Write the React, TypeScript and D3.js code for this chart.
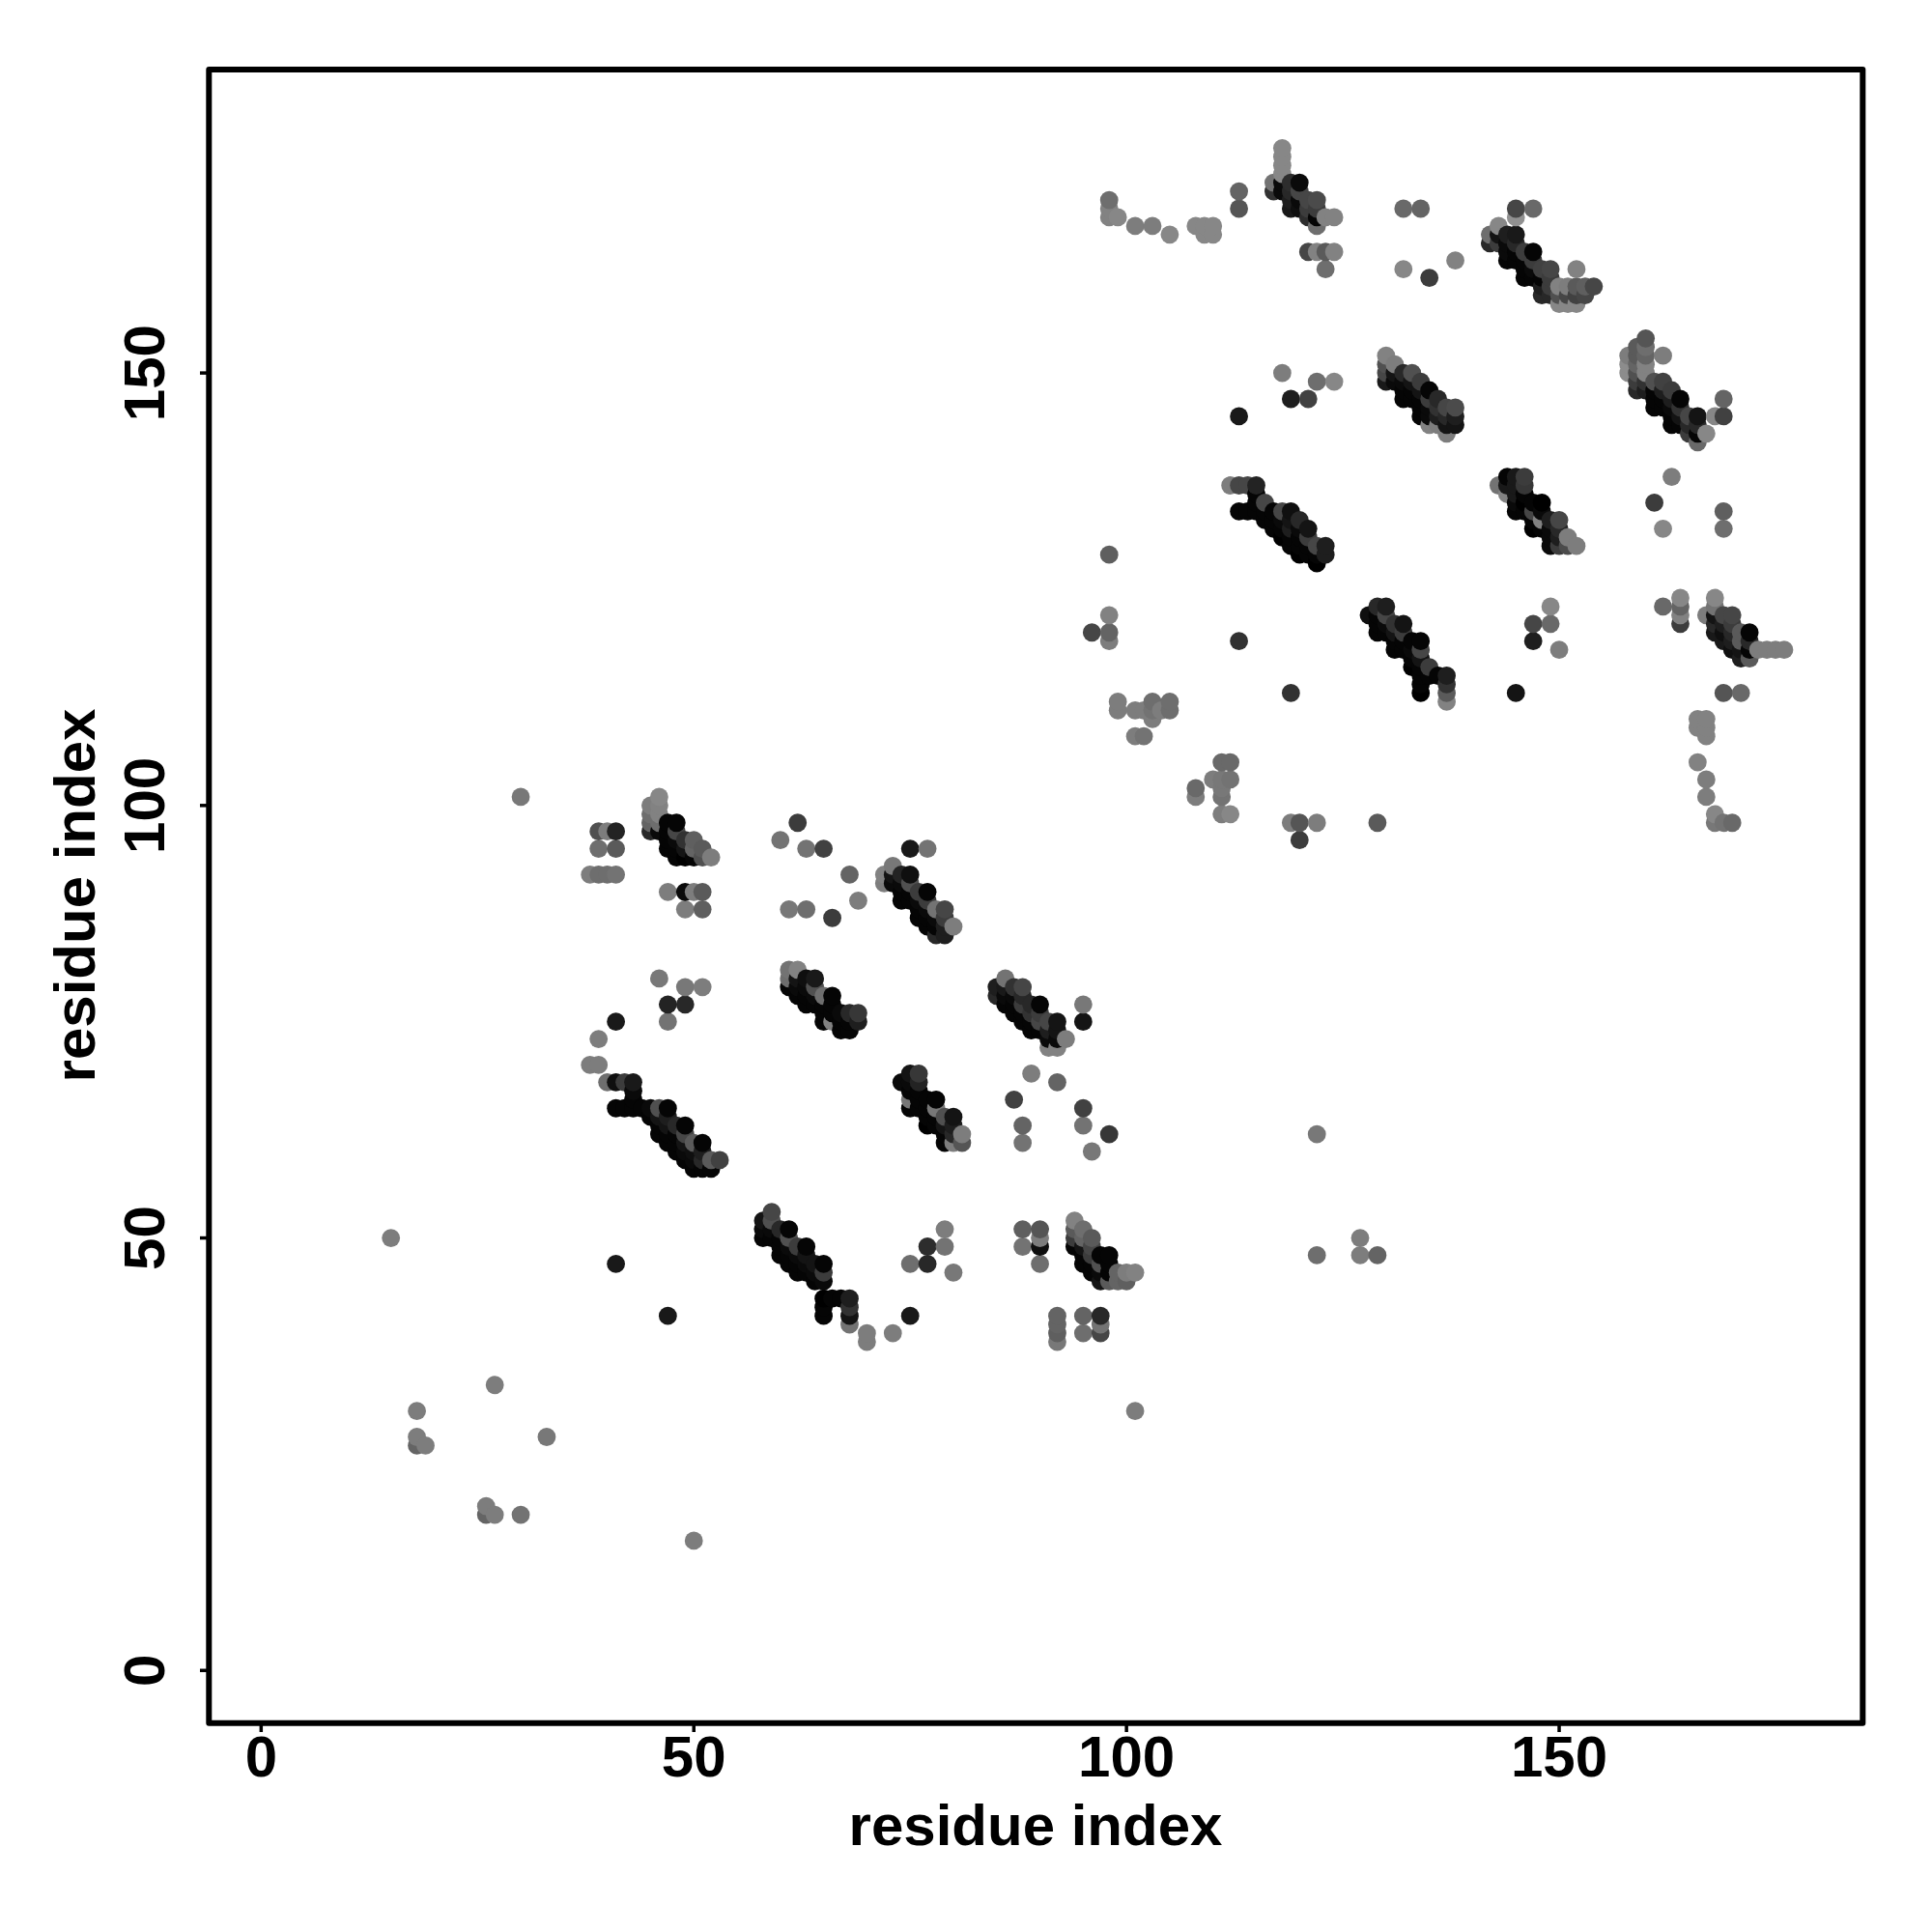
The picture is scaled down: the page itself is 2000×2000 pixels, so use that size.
import React from "react";
import * as d3 from "d3";

// Each contact: [residue i, residue j, shade] where shade is the grey level seen in the picture.
type C = [number, number, number];

const xTicks = [0, 50, 100, 150];
const yTicks = [0, 50, 100, 150];
const axisLabel = "residue index";

const scatterLow: C[] = [
  [15,50,125],[30,101,120],[18,30,125],[18,27,125],[18,26,100],[19,26,125],[27,33,125],[33,27,120],
  [26,19,125],[26,18,100],[27,18,125],[30,18,115],[50,15,125],[41,47,25],[47,41,25],[101,30,125],
  [122,62,120],[122,48,110],[127,50,125],[127,48,125],[129,48,100],
];
const topLeftA: C[] = [
  [39,97,80],[40,97,125],[41,97,35],[39,95,110],[41,95,90],[38,92,125],[39,92,110],[40,92,110],[41,92,115],
  [47,90,125],[49,90,10],[50,90,125],[51,90,90],[49,88,125],[51,88,95],
  [62,98,60],[60,96,115],[63,95,115],[65,95,65],[68,92,100],[69,89,125],[61,88,120],[63,88,110],[66,87,60],
  [75,95,25],[77,95,115],
];
const strandA: C[] = [
  [45,100,125],[45,99,110],[45,98,100],[45,97,40],[46,101,135],[46,100,130],[46,99,130],[46,98,110],[46,97,10],
  [47,98,5],[47,97,5],[47,96,5],[47,95,5],[48,98,5],[48,97,70],[48,96,10],[48,95,5],[48,94,5],
  [49,96,50],[49,95,20],[49,94,0],[50,96,95],[50,95,100],[50,94,5],[51,95,90],[51,94,80],[52,94,125],
];
const strandB: C[] = [
  [72,92,130],[72,91,125],[73,93,120],[73,92,20],[73,91,10],[74,92,35],[74,91,10],[74,90,5],[74,89,5],
  [75,92,15],[75,91,80],[75,90,5],[75,89,5],[76,90,60],[76,89,10],[76,88,5],[76,87,5],
  [77,90,5],[77,89,60],[77,88,10],[77,87,5],[77,86,5],[78,88,115],[78,87,10],[78,86,5],[78,85,40],
  [79,88,70],[79,87,60],[79,86,30],[79,85,30],[80,86,125],
];
const strandC: C[] = [
  [61,81,115],[61,80,110],[61,79,5],[62,81,130],[62,80,20],[62,79,10],[62,78,5],[63,80,15],[63,79,10],[63,78,5],[63,77,5],
  [64,80,25],[64,79,80],[64,78,10],[64,77,5],[65,78,110],[65,77,5],[65,76,5],[65,75,5],
  [66,78,5],[66,77,5],[66,76,5],[66,75,130],[67,76,10],[67,75,5],[67,74,5],[68,76,40],[68,75,5],[68,74,5],[69,76,55],[69,75,30],
];
const strandD: C[] = [
  [85,79,30],[85,78,40],[86,80,115],[86,79,25],[86,78,10],[86,77,5],[87,79,50],[87,78,10],[87,77,5],[87,76,5],
  [88,79,70],[88,78,40],[88,77,60],[88,76,5],[88,75,5],[89,77,40],[89,76,50],[89,75,5],[89,74,5],
  [90,77,5],[90,76,60],[90,75,70],[90,74,5],[91,75,70],[91,74,30],[91,73,10],[91,72,130],
  [92,75,20],[92,74,20],[92,73,10],[92,72,130],[93,73,125],[95,77,120],[95,75,20],
  [89,69,125],[92,68,100],[87,66,65],[95,65,65],[95,63,115],[98,62,55],[96,60,120],[88,63,100],[88,61,115],
];
const strandE: C[] = [
  [74,68,10],[75,69,20],[75,68,10],[75,67,5],[75,66,120],[75,65,5],[76,69,55],[76,68,35],[76,67,5],[76,66,5],[76,65,5],
  [77,66,5],[77,65,5],[77,64,5],[77,63,0],[78,66,5],[78,65,120],[78,64,5],[78,63,5],
  [79,64,80],[79,63,20],[79,62,5],[79,61,5],[80,64,20],[80,63,30],[80,62,40],[80,61,125],[81,62,125],[81,61,85],
];
const strandF: C[] = [
  [38,70,125],[39,70,125],[39,73,125],[41,75,25],[46,80,120],[49,79,120],[51,79,125],[47,77,35],[49,77,40],[47,75,115],
  [40,68,110],[41,68,15],[42,68,60],[43,68,25],[43,67,10],[43,66,5],[43,65,5],[42,65,5],[41,65,5],[44,65,5],
  [45,65,10],[45,64,5],[46,65,80],[46,64,20],[46,63,5],[46,62,5],[47,65,5],[47,64,30],[47,63,20],[47,62,5],[47,61,5],
  [48,63,40],[48,62,5],[48,61,5],[48,60,5],[49,63,5],[49,62,70],[49,61,20],[49,60,10],[49,59,5],
  [50,61,90],[50,60,15],[50,59,10],[50,58,5],[51,61,5],[51,60,30],[51,59,40],[51,58,5],[52,59,90],[52,58,5],[53,59,65],
];
const strandG: C[] = [
  [58,52,20],[58,51,10],[58,50,5],[59,53,70],[59,52,80],[59,51,10],[59,50,5],[60,51,40],[60,50,5],[60,49,5],[60,48,5],
  [61,51,5],[61,50,80],[61,49,10],[61,48,5],[61,47,5],[62,49,60],[62,48,10],[62,47,5],[62,46,5],
  [63,49,5],[63,48,20],[63,47,10],[63,46,5],[64,47,20],[64,46,10],[64,45,5],[65,47,5],[65,46,60],[65,45,10],
  [65,43,0],[65,42,5],[65,41,5],[66,43,5],[67,43,5],[68,43,30],[68,42,50],[68,41,20],[68,40,115],
  [70,39,125],[70,38,125],[73,39,125],[75,41,25],
  [79,51,125],[77,49,45],[79,49,115],[75,47,110],[77,47,40],[80,46,120],
];
const strandH: C[] = [
  [88,51,95],[90,51,85],[88,49,115],[90,50,125],[90,49,15],[90,47,110],
  [92,41,100],[92,40,100],[92,39,95],[92,38,120],[95,41,100],[95,39,110],[97,41,40],[97,40,115],[97,39,70],
  [94,52,130],[94,51,90],[94,50,60],[94,49,5],[95,51,110],[95,50,100],[95,49,20],[95,48,5],[95,47,5],
  [96,50,90],[96,49,70],[96,48,60],[96,47,5],[96,46,5],[97,48,5],[97,47,80],[97,46,10],[97,45,20],
  [98,48,5],[98,47,5],[98,46,5],[98,45,90],[99,46,100],[99,45,100],[100,46,125],[100,45,95],[101,46,130],
];
const upperLeftMisc: C[] = [
  [98,170,110],[98,169,130],[98,168,130],[99,168,135],[101,167,125],[103,167,125],[105,166,135],
  [108,167,135],[109,167,135],[109,166,135],[110,167,135],[110,166,135],[113,171,100],[113,169,85],
  [121,164,70],[122,164,130],[123,164,90],[124,164,130],[123,162,110],
  [132,169,105],[134,169,100],[132,162,135],[135,161,60],[138,163,130],
  [118,150,125],[122,149,110],[124,149,135],[119,147,30],[121,147,65],[113,145,25],
  [98,129,95],[98,122,130],[98,120,100],[98,119,125],[96,120,70],[113,119,50],[119,113,50],
  [99,112,125],[99,111,125],[101,111,125],[102,111,125],[103,112,110],[103,111,115],[103,110,125],
  [104,111,125],[105,112,110],[105,111,110],[101,108,125],[102,108,115],
  [111,105,105],[112,105,105],[110,103,125],[111,103,120],[112,103,115],[111,102,120],[111,101,115],
  [108,102,105],[108,101,125],[111,99,125],[112,99,135],[119,98,125],[120,98,85],[122,98,125],[129,98,90],[120,96,60],
];
const strandI: C[] = [
  [117,172,115],[117,171,50],[118,176,135],[118,175,135],[118,174,135],[118,173,135],[118,172,10],[118,171,10],
  [119,172,45],[119,171,40],[119,170,30],[119,169,25],[120,172,10],[120,171,70],[120,170,10],[120,169,15],
  [121,170,70],[121,169,60],[121,168,45],[122,170,75],[122,169,60],[122,168,5],[122,167,110],[123,168,130],[124,168,130],
];
const strandJ: C[] = [
  [142,166,110],[142,165,40],[143,167,135],[143,166,20],[143,165,60],[144,166,30],[144,165,10],[144,164,10],[144,163,5],
  [145,169,70],[145,168,145],[145,166,25],[145,165,40],[145,164,5],[145,163,5],[146,164,60],[146,163,5],[146,162,5],[146,161,5],
  [147,169,105],[147,164,5],[147,163,60],[147,162,10],[147,161,5],[148,162,65],[148,161,5],[148,160,30],[148,159,40],
  [149,162,70],[149,161,60],[149,160,60],[149,159,40],
  [150,160,130],[150,159,80],[150,158,135],[151,160,125],[151,159,70],[151,158,135],
  [152,162,130],[152,160,90],[152,159,65],[152,158,135],[153,160,95],[153,159,70],[154,160,70],
];
const strandK: C[] = [
  [158,152,125],[158,151,140],[158,150,140],[159,153,90],[159,152,90],[159,151,100],[159,150,80],[159,149,60],[159,148,40],
  [160,154,85],[160,153,110],[160,152,100],[160,151,130],[160,150,130],[160,149,50],[160,148,30],
  [161,149,80],[161,148,5],[161,147,5],[161,146,5],[162,152,125],[162,149,65],[162,148,30],[162,147,5],[162,146,5],
  [163,148,60],[163,147,30],[163,146,10],[163,145,5],[163,144,5],[164,147,5],[164,146,50],[164,145,20],[164,144,5],
  [165,145,70],[165,144,40],[165,143,60],[166,145,20],[166,144,40],[166,143,5],[166,142,105],[167,143,135],
  [168,145,135],[169,147,100],[169,145,65],[163,138,125],[161,135,60],[162,132,135],[169,134,95],[169,132,110],
];
const strandL: C[] = [
  [130,152,130],[130,151,80],[130,150,70],[130,149,25],[131,151,125],[131,150,20],[131,149,10],
  [132,150,40],[132,149,10],[132,148,5],[132,147,5],[133,150,80],[133,149,20],[133,148,5],[133,147,5],
  [134,149,60],[134,148,20],[134,147,5],[134,146,5],[134,145,5],[135,148,5],[135,147,60],[135,146,10],[135,145,10],[135,144,130],
  [136,147,40],[136,146,50],[136,145,30],[136,144,125],[137,146,70],[137,145,40],[137,144,20],[137,143,125],
  [138,146,75],[138,145,30],[138,144,20],
];
const strandM: C[] = [
  [112,137,125],[113,137,70],[113,134,5],[114,137,70],[114,134,5],[115,137,35],[115,136,5],[115,135,5],[115,134,5],
  [116,135,70],[116,134,5],[116,133,5],[117,134,5],[117,133,5],[117,132,5],[118,134,70],[118,133,10],[118,132,5],[118,131,0],
  [119,134,15],[119,133,20],[119,132,30],[119,131,5],[119,130,5],[120,133,40],[120,132,10],[120,131,5],[120,130,5],[120,129,0],
  [121,132,20],[121,131,60],[121,130,5],[121,129,5],[122,130,70],[122,129,5],[122,128,0],[123,130,30],[123,129,30],
];
const strandN: C[] = [
  [143,137,115],[144,138,5],[144,137,25],[144,136,130],[145,138,25],[145,137,25],[145,136,25],[145,135,10],[145,134,5],
  [146,138,60],[146,137,55],[146,136,5],[146,135,0],[146,134,5],[147,135,5],[147,134,70],[147,133,5],[147,132,0],
  [148,135,0],[148,134,10],[148,133,130],[148,132,5],[149,133,30],[149,132,10],[149,131,10],[149,130,10],
  [150,133,70],[150,132,40],[150,131,30],[150,130,60],[151,131,125],[151,130,75],[152,130,125],
  [149,123,135],[147,121,70],[149,121,105],[147,119,30],[150,118,125],[145,113,20],
];
const strandO: C[] = [
  [128,122,15],[129,123,40],[129,122,5],[129,121,5],[129,120,5],[130,123,30],[130,122,70],[130,121,10],[130,120,5],
  [131,121,50],[131,120,20],[131,119,5],[131,118,5],[132,121,20],[132,120,60],[132,119,5],[132,118,5],
  [133,119,5],[133,118,10],[133,117,5],[133,116,0],[134,119,5],[134,118,70],[134,117,20],[134,116,5],[134,115,5],[134,114,5],[134,113,0],
  [135,116,60],[135,115,5],[136,115,5],[137,115,30],[137,114,50],[137,113,90],[137,112,130],
];
const strandP: C[] = [
  [162,123,105],[164,124,135],[164,123,100],[164,122,130],[164,121,60],
  [167,122,125],[168,124,135],[168,123,115],[168,122,20],[168,121,40],[168,120,25],[169,122,70],[169,121,30],[169,120,15],[169,119,25],
  [170,122,70],[170,121,60],[170,120,40],[170,119,30],[170,118,15],[171,120,90],[171,119,90],[171,118,20],[171,117,30],
  [172,120,5],[172,119,40],[172,118,5],[172,117,90],[173,118,125],[174,118,125],[175,118,125],[176,118,125],
  [169,113,85],[171,113,105],
  [166,110,130],[167,110,130],[166,109,130],[167,109,130],[167,108,130],[166,105,130],[167,103,125],[167,101,125],
  [168,99,135],[168,98,120],[169,98,115],[170,98,105],
];

const contacts: C[] = [
  ...scatterLow, ...topLeftA, ...strandA, ...strandB, ...strandC, ...strandD, ...strandE, ...strandF, ...strandG,
  ...strandH, ...upperLeftMisc, ...strandI, ...strandJ, ...strandK, ...strandL, ...strandM, ...strandN, ...strandO, ...strandP,
].sort((a, b) => d3.ascending(a[0], b[0]) || d3.ascending(a[1], b[1]));

const FONT = "'Liberation Sans', Arial, sans-serif";

export default function App() {
  const x = d3.scaleLinear().domain([-6.03, 185.08]).range([216.3, 1928.3]);
  const y = d3.scaleLinear().domain([-6.08, 185.08]).range([1783.7, 72]);
  const shade = (v: number) => d3.rgb(v, v, v).formatHex();
  return (
    <svg width={2000} height={2000} style={{ position: "absolute", left: 0, top: 0, background: "#fff" }}>
      {contacts.map((c, i) => (
        <circle key={i} cx={x(c[0])} cy={y(c[1])} r={9.4} fill={shade(c[2])} />
      ))}
      <rect x={216.3} y={72} width={1712} height={1711.7} fill="none" stroke="#000" strokeWidth={6} strokeLinejoin="round" />
      {xTicks.map((t) => (
        <g key={t}>
          <line x1={x(t)} x2={x(t)} y1={1783.7} y2={1793} stroke="#000" strokeWidth={3.5} />
          <text x={x(t)} y={1839} textAnchor="middle" fontFamily={FONT} fontWeight="bold" fontSize={60} fill="#000">{t}</text>
        </g>
      ))}
      {yTicks.map((t) => (
        <g key={t}>
          <line x1={207} x2={216.3} y1={y(t)} y2={y(t)} stroke="#000" strokeWidth={3.5} />
          <text transform={`translate(170,${y(t)}) rotate(-90)`} textAnchor="middle" fontFamily={FONT} fontWeight="bold" fontSize={60} fill="#000">{t}</text>
        </g>
      ))}
      <text x={1072} y={1910} textAnchor="middle" fontFamily={FONT} fontWeight="bold" fontSize={60} fill="#000">{axisLabel}</text>
      <text transform="translate(98,927) rotate(-90)" textAnchor="middle" fontFamily={FONT} fontWeight="bold" fontSize={60} fill="#000">{axisLabel}</text>
    </svg>
  );
}
